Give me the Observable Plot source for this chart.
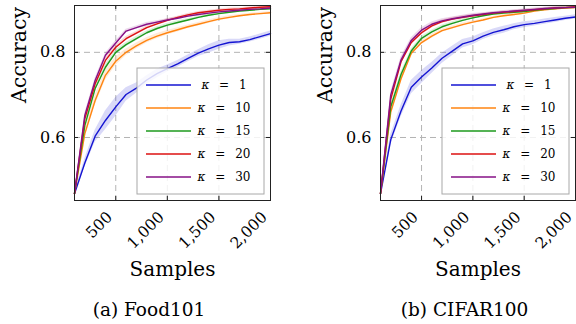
<!DOCTYPE html>
<html><head><meta charset="utf-8">
<script src="https://cdn.jsdelivr.net/npm/d3@7"></script>
<script src="https://cdn.jsdelivr.net/npm/@observablehq/plot@0.6"></script>
<style>
body{margin:0;background:#fff;}
#wrap{position:relative;width:576px;height:324px;overflow:hidden;}
.panel{position:absolute;top:0;width:288px;height:324px;}
.panel svg, .panel svg text{font-family:"DejaVu Serif", "Liberation Serif", serif !important;}
</style></head>
<body><div id="wrap"><div class="panel" id="pa" style="left:0"></div><div class="panel" id="pb" style="left:288px"></div></div>
<script>
const xs = [100,200,300,400,500,600,700,800,900,1000,1100,1200,1300,1400,1500,1600,1700,1800,1900,2000];
const seriesLabels = ["1","10","15","20","30"];
const seriesColors = ["#1414d2","#ff8410","#1d9a1d","#dc1010","#861086"];
const xTicks = [500,1000,1500,2000];
const yTicks = [0.6,0.8];
const captions = ["(a) Food101","(b) CIFAR100"];

const food_k1  = [0.468,0.540,0.603,0.640,0.672,0.701,0.716,0.735,0.750,0.762,0.773,0.786,0.798,0.808,0.817,0.823,0.825,0.830,0.837,0.844];
const food_k10 = [0.468,0.609,0.687,0.746,0.779,0.800,0.815,0.828,0.838,0.846,0.853,0.860,0.866,0.872,0.878,0.882,0.886,0.889,0.891,0.893];
const food_k15 = [0.468,0.628,0.715,0.765,0.800,0.818,0.832,0.846,0.856,0.864,0.870,0.876,0.882,0.887,0.891,0.894,0.897,0.899,0.901,0.902];
const food_k20 = [0.468,0.644,0.726,0.781,0.812,0.832,0.845,0.858,0.867,0.875,0.882,0.888,0.893,0.896,0.899,0.901,0.902,0.904,0.906,0.907];
const food_k30 = [0.468,0.652,0.734,0.793,0.822,0.850,0.858,0.866,0.871,0.876,0.880,0.885,0.889,0.892,0.895,0.897,0.899,0.901,0.902,0.904];

const food_s1  = [0.002,0.010,0.014,0.022,0.022,0.016,0.012,0.010,0.010,0.008,0.008,0.008,0.008,0.010,0.010,0.008,0.006,0.006,0.006,0.006];
const food_s10 = [0.002,0.010,0.012,0.012,0.010,0.008,0.007,0.006,0.006,0.005,0.005,0.004,0.004,0.004,0.004,0.004,0.003,0.003,0.003,0.003];
const food_s15 = [0.002,0.006,0.007,0.007,0.006,0.005,0.005,0.004,0.004,0.004,0.004,0.003,0.003,0.003,0.003,0.003,0.003,0.003,0.003,0.003];
const food_s20 = [0.002,0.006,0.006,0.006,0.005,0.005,0.004,0.004,0.004,0.004,0.003,0.003,0.003,0.003,0.003,0.003,0.003,0.003,0.003,0.003];
const food_s30 = [0.002,0.005,0.005,0.005,0.005,0.004,0.004,0.004,0.003,0.003,0.003,0.003,0.003,0.003,0.003,0.003,0.003,0.003,0.003,0.003];

const cifar_k1  = [0.468,0.595,0.662,0.718,0.742,0.763,0.786,0.803,0.820,0.827,0.838,0.847,0.853,0.860,0.865,0.868,0.872,0.876,0.880,0.883];
const cifar_k10 = [0.468,0.660,0.738,0.798,0.823,0.838,0.851,0.858,0.865,0.871,0.876,0.882,0.886,0.889,0.892,0.897,0.900,0.902,0.904,0.905];
const cifar_k15 = [0.468,0.672,0.748,0.803,0.833,0.848,0.860,0.868,0.875,0.881,0.886,0.890,0.892,0.894,0.896,0.899,0.901,0.903,0.905,0.906];
const cifar_k20 = [0.468,0.690,0.778,0.823,0.846,0.862,0.872,0.878,0.882,0.886,0.889,0.892,0.894,0.896,0.898,0.900,0.902,0.904,0.905,0.907];
const cifar_k30 = [0.468,0.700,0.782,0.828,0.852,0.866,0.874,0.879,0.883,0.887,0.890,0.893,0.895,0.897,0.899,0.901,0.903,0.904,0.905,0.906];

const cifar_s1  = [0.002,0.012,0.014,0.016,0.015,0.013,0.012,0.011,0.010,0.009,0.008,0.008,0.008,0.007,0.007,0.006,0.006,0.006,0.005,0.005];
const cifar_s10 = [0.002,0.007,0.007,0.006,0.005,0.005,0.004,0.004,0.004,0.003,0.003,0.003,0.003,0.003,0.003,0.003,0.003,0.003,0.003,0.003];
const cifar_s15 = [0.002,0.006,0.006,0.005,0.005,0.004,0.004,0.004,0.003,0.003,0.003,0.003,0.003,0.003,0.003,0.003,0.003,0.003,0.003,0.003];
const cifar_s20 = [0.002,0.006,0.006,0.006,0.005,0.005,0.004,0.004,0.004,0.003,0.003,0.003,0.003,0.003,0.003,0.003,0.003,0.003,0.003,0.003];
const cifar_s30 = [0.002,0.007,0.007,0.006,0.006,0.005,0.005,0.004,0.004,0.004,0.003,0.003,0.003,0.003,0.003,0.003,0.003,0.003,0.003,0.003];

function rows(vals, sds) {
  const out = [];
  vals.forEach((arr, si) => arr.forEach((v, i) => out.push({x: xs[i], y: v, lo: v - sds[si][i], hi: v + sds[si][i], s: seriesLabels[si]})));
  return out;
}

const FONT = "DejaVu Serif";

function panel(el, data, caption, mL, mR, capDx) {
  const W = 288, H = 324, mT = 5, mB = 124;
  const fh = H - mT - mB;
  const grid = {stroke: "#b4b4b4", strokeOpacity: 1, strokeDasharray: "6,4", strokeWidth: 1};
  const chart = Plot.plot({
    width: W, height: H, marginLeft: mL, marginRight: mR, marginTop: mT, marginBottom: mB,
    x: {domain: [100, 2000]},
    y: {domain: [0.452, 0.91]},
    color: {domain: seriesLabels, range: seriesColors},
    style: {fontFamily: FONT, fontSize: "16px", color: "black", background: "white", overflow: "visible"},
    marks: [
      Plot.gridX(xTicks, grid),
      Plot.gridY(yTicks, grid),
      Plot.areaY(data, {x: "x", y1: "lo", y2: "hi", fill: "s", z: "s", fillOpacity: 0.16}),
      Plot.line(data, {x: "x", y: "y", stroke: "s", z: "s", strokeWidth: 1.4}),
      Plot.ruleX(xTicks, {x: d => d, insetTop: fh - 4, stroke: "#222"}),
      Plot.ruleX(xTicks, {x: d => d, insetBottom: fh - 4, stroke: "#222"}),
      Plot.ruleY(yTicks, {y: d => d, insetRight: (W - mL - mR) - 4, stroke: "#222"}),
      Plot.ruleY(yTicks, {y: d => d, insetLeft: (W - mL - mR) - 4, stroke: "#222"}),
      Plot.frame({stroke: "#222", strokeWidth: 1}),
      Plot.axisX(xTicks, {tickSize: 0, tickRotate: -45, tickPadding: 14, dx: -6, textAnchor: "end", lineAnchor: "middle", label: null, fontSize: 15.5}),
      Plot.axisY(yTicks, {tickSize: 0, tickPadding: 9, label: null, fontSize: 16}),
      Plot.text(["Samples"], {frameAnchor: "bottom", dy: 75, lineAnchor: "bottom", fontSize: 20, text: d => d}),
      Plot.text(["Accuracy"], {frameAnchor: "left", dx: -55, rotate: -90, lineAnchor: "middle", fontSize: 20.5, text: d => d}),
      Plot.text([caption], {frameAnchor: "bottom", dy: 115, dx: capDx, lineAnchor: "bottom", fontSize: 18.5, text: d => d})
    ]
  });
  // legend
  const svg = d3.select(chart);
  const bw = 127, bh = 126;
  const bx = W - mR - 6 - bw, by = mT + fh - 6 - bh;
  const g = svg.append("g").attr("font-family", FONT);
  g.append("rect").attr("x", bx).attr("y", by).attr("width", bw).attr("height", bh)
    .attr("fill", "white").attr("fill-opacity", 0.82).attr("stroke", "#a8a8a8").attr("stroke-width", 1);
  seriesLabels.forEach((lab, i) => {
    const yy = by + 17 + i * 23;
    g.append("line").attr("x1", bx + 9).attr("x2", bx + 54).attr("y1", yy).attr("y2", yy)
      .attr("stroke", seriesColors[i]).attr("stroke-width", 1.4);
    const t = g.append("text").attr("x", bx + 87).attr("y", yy).attr("dy", "0.32em")
      .attr("text-anchor", "middle").attr("font-size", 12).attr("word-spacing", "6px");
    t.append("tspan").attr("font-style", "italic").text("κ");
    t.append("tspan").text(" = " + lab);
  });
  el.appendChild(chart);
}

panel(document.getElementById("pa"),
  rows([food_k1, food_k10, food_k15, food_k20, food_k30], [food_s1, food_s10, food_s15, food_s20, food_s30]),
  captions[0], 74, 18, -23.5);
panel(document.getElementById("pb"),
  rows([cifar_k1, cifar_k10, cifar_k15, cifar_k20, cifar_k30], [cifar_s1, cifar_s10, cifar_s15, cifar_s20, cifar_s30]),
  captions[1], 92, 1, -13.5);
</script>
</body></html>
